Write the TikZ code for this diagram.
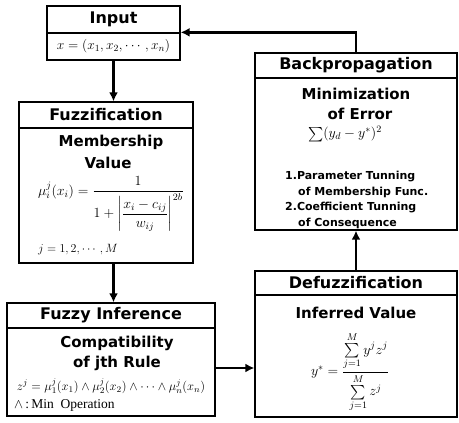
\RequirePackage{fix-cm}
\documentclass[tikz,border=0pt]{standalone}
\usepackage{amsmath}
\usepackage{fontspec}
\setmainfont{Liberation Serif}
\newfontfamily\headfont{DejaVu Sans}
\usetikzlibrary{arrows.meta}

\tikzset{
  cell/.style={draw, line width=1.3pt, inner sep=0pt},
  head/.style={cell, font=\headfont\bfseries\fontsize{16}{16}\selectfont},
  sub/.style={font=\headfont\bfseries\fontsize{15}{15}\selectfont, inner sep=0pt},
  item/.style={font=\headfont\bfseries\fontsize{11}{11}\selectfont, anchor=west, inner sep=0pt},
  eq/.style={font=\fontsize{#1}{#1}\selectfont, inner sep=0pt},
  arrow/.style={line width=2.3pt, -{Latex[length=9pt,width=9pt]}},
}

\begin{document}
\begin{tikzpicture}[x=1pt,y=-1pt]
  \useasboundingbox (0,0) rectangle (459,423);
  % input
  \node[head, minimum width=133pt, minimum height=27pt] (inT) at (113.5,19.5) {Input};
  \node[cell, minimum width=133pt, minimum height=27pt, font=\fontsize{13.5}{13.5}\selectfont] (inB) at (113.5,46.5) {$x=(x_1,x_2,\cdots,x_n)$};
  % fuzzification
  \node[head, minimum width=174pt, minimum height=26pt] (fuzzT) at (106,115) {Fuzzification};
  \node[cell, minimum width=174pt, minimum height=135pt] (fuzzB) at (106,195.5) {};
  \node[sub] (fuzzS1) at (111,142) {Membership};
  \node[sub] (fuzzS2) at (108,163) {Value};
  \node[eq=14, anchor=west] (fuzzF) at (38,204) {$\displaystyle\mu_i^j(x_i)=\frac{1}{1+\left|\dfrac{x_i-c_{ij}}{w_{ij}}\right|^{2b}}$};
  \node[eq=12, anchor=west] (fuzzJ) at (38,250) {$j=1,2,\cdots,M$};
  % fuzzy inference
  \node[head, minimum width=208pt, minimum height=25pt] (fiT) at (111,315.5) {Fuzzy Inference};
  \node[cell, minimum width=208pt, minimum height=88pt] (fiB) at (111,372) {};
  \node[sub] (fiS1) at (117,343) {Compatibility};
  \node[sub] (fiS2) at (117,363) {of jth Rule};
  \node[eq=12.5] (fiF) at (111,386) {$z^j=\mu_1^j(x_1)\wedge\mu_2^j(x_2)\wedge\cdots\wedge\mu_n^j(x_n)$};
  \node[eq=13.5, anchor=west] (fiM) at (14,405) {$\wedge$\,:\,Min\ \ Operation};
  % backpropagation
  \node[head, minimum width=202pt, minimum height=25pt] (bpT) at (356,65.5) {Backpropagation};
  \node[cell, minimum width=202pt, minimum height=152pt] (bpB) at (356,154) {};
  \node[sub] (bpS1) at (356,94) {Minimization};
  \node[sub] (bpS2) at (360,114) {of Error};
  \node[eq=14] (bpF) at (345,134) {$\sum(y_d-y^*)^2$};
  \node[item] (bpI1) at (285,177) {1.Parameter Tunning};
  \node[item] (bpI2) at (298,192) {of Membership Func.};
  \node[item] (bpI3) at (285,208) {2.Coefficient Tunning};
  \node[item] (bpI4) at (298,223) {of Consequence};
  % defuzzification
  \node[head, minimum width=202pt, minimum height=24pt] (dfT) at (356,283) {Defuzzification};
  \node[cell, minimum width=202pt, minimum height=122pt] (dfB) at (356,356) {};
  \node[sub] (dfS) at (356,313) {Inferred Value};
  \node[eq=14] (dfF) at (350,372) {$y^*=\dfrac{\sum\limits_{j=1}^{M}y^jz^j}{\sum\limits_{j=1}^{M}z^j}$};
  % flow arrows
  \draw[arrow] (inB.south) -- (inB.south |- fuzzT.north);
  \draw[arrow] (fuzzB.south -| inB.south) -- (inB.south |- fiT.north);
  \coordinate (fiOut) at ([yshift=4pt]fiB.east);
  \draw[arrow] (fiOut) -- (fiOut -| dfB.west);
  \draw[arrow] (dfT.north) -- (bpB.south);
  \draw[arrow] (bpT.north) |- (inB.north east);
\end{tikzpicture}
\end{document}
